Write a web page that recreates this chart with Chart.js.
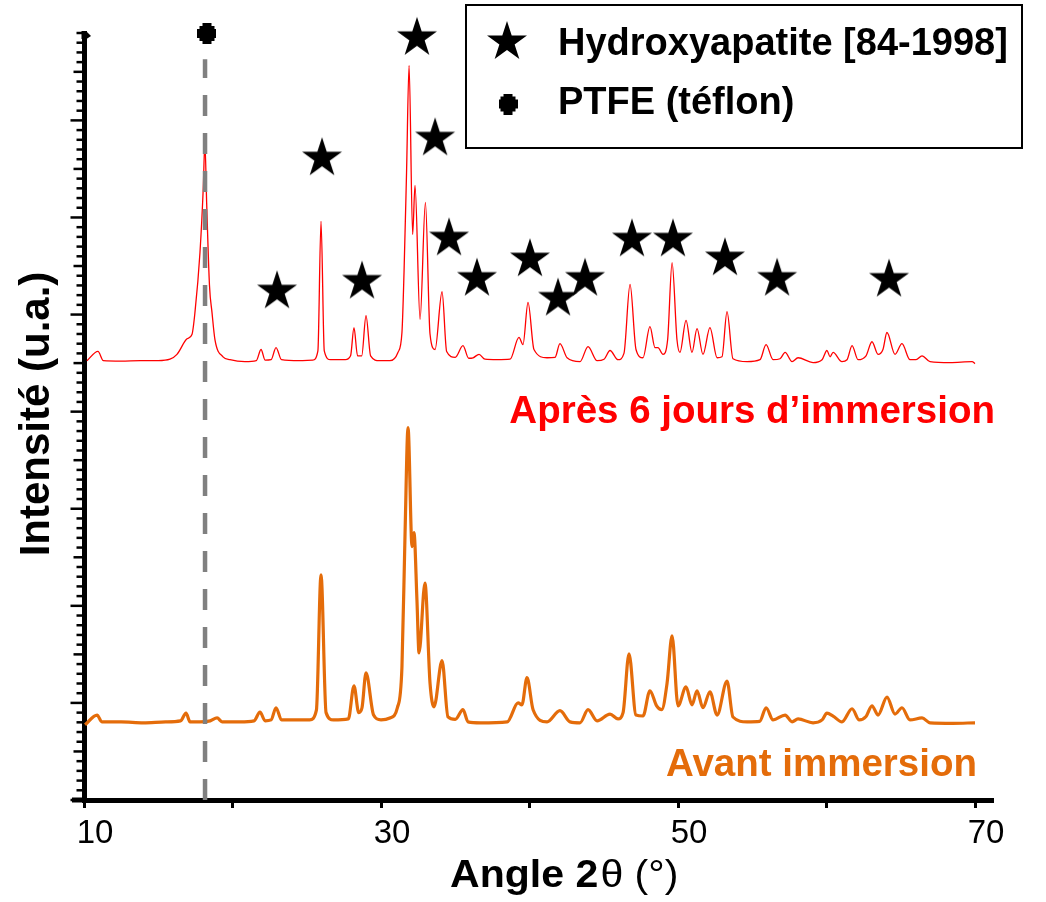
<!DOCTYPE html>
<html><head><meta charset="utf-8">
<script src="https://cdn.jsdelivr.net/npm/chart.js@4.4.1/dist/chart.umd.min.js"></script>
<style>html,body{margin:0;padding:0;background:#fff}#wrap{width:1046px;height:902px;position:relative}</style>
</head><body><div id="wrap"><canvas id="c" width="1046" height="902"></canvas></div>
<script>
const FONT = "'Liberation Sans', Arial, sans-serif";

// [angle 2θ (°), intensity (u.a.)]  — after 6 days of immersion (red, offset upward)
const redPattern = [
 [10.20,9.05],[10.94,9.24],[11.30,9.05],[12.50,9.04],[13.80,9.05],[15.00,9.05],[15.79,9.08],[16.26,9.18],
 [16.94,9.50],[17.27,9.59],[17.47,10.04],[17.81,11.28],[18.03,12.60],[18.14,13.55],[18.26,12.30],[18.45,10.60],[18.62,10.04],
 [18.82,9.48],[19.36,9.13],[19.83,9.07],[20.84,9.03],[21.60,9.05],[21.92,9.28],[22.20,9.06],[22.60,9.07],
 [22.93,9.32],[23.30,9.07],[24.50,9.05],[25.40,9.06],[25.75,9.25],[25.96,11.92],[26.18,9.25],[26.60,9.07],
 [27.60,9.07],[27.95,9.15],[28.18,9.73],[28.42,9.15],[28.70,9.15],[28.99,9.98],[29.30,9.15],[29.90,9.05],
 [30.60,9.05],[31.14,9.22],[31.41,9.63],[31.55,10.87],[31.72,12.93],[31.89,15.13],[32.13,11.65],[32.29,12.66],
 [32.63,9.90],[32.99,12.31],[33.30,9.60],[33.64,9.28],[34.11,10.47],[34.42,9.24],[35.00,9.12],[35.52,9.36],
 [35.90,9.10],[36.20,9.11],[36.60,9.18],[37.00,9.08],[37.81,9.07],[38.69,9.08],[39.29,9.53],[39.56,9.38],
 [39.90,10.25],[40.30,9.28],[41.18,9.11],[41.72,9.12],[42.05,9.40],[42.53,9.11],[43.40,9.03],[43.94,9.34],
 [44.55,9.05],[45.02,9.08],[45.42,9.26],[45.96,9.07],[46.36,9.20],[46.77,10.62],[47.17,9.28],[47.64,9.11],
 [48.11,9.75],[48.45,9.32],[48.65,9.32],[48.99,9.18],[49.30,9.48],[49.60,11.07],[49.93,9.48],[50.13,9.22],
 [50.54,9.88],[50.94,9.22],[51.28,9.71],[51.68,9.18],[52.15,9.73],[52.63,9.11],[52.96,9.13],[53.30,10.06],
 [53.70,9.09],[54.65,9.03],[55.52,9.07],[55.93,9.38],[56.40,9.07],[56.87,9.09],[57.21,9.22],[57.68,9.03],
 [58.08,9.11],[59.09,9.01],[59.70,9.07],[60.03,9.26],[60.24,9.13],[60.44,9.22],[61.04,9.03],[61.38,9.07],
 [61.72,9.36],[62.12,9.07],[62.66,9.15],[63.06,9.44],[63.47,9.18],[63.80,9.28],[64.07,9.63],[64.61,9.18],
 [65.08,9.40],[65.62,9.07],[66.03,9.07],[66.43,9.15],[66.97,9.03],[68.32,9.01],[69.80,9.03],[70.00,8.99]
];

// before immersion (orange)
const orangePattern = [
 [10.07,1.55],[10.88,1.75],[11.20,1.61],[12.50,1.61],[14.00,1.59],[15.50,1.61],[16.50,1.63],[16.87,1.79],
 [17.14,1.61],[17.80,1.61],[18.50,1.63],[18.96,1.69],[19.30,1.61],[20.50,1.61],[21.45,1.63],[21.85,1.81],
 [22.20,1.63],[22.60,1.65],[22.93,1.90],[23.30,1.65],[25.20,1.65],[25.65,1.85],[25.96,4.64],[26.30,1.80],
 [26.80,1.65],[27.80,1.67],[28.18,2.35],[28.50,1.80],[28.72,1.90],[28.99,2.62],[29.50,1.75],[30.00,1.65],
 [30.60,1.69],[31.10,1.90],[31.41,2.74],[31.62,5.51],[31.82,7.67],[32.09,5.22],[32.22,5.51],[32.42,4.12],
 [32.56,3.03],[32.96,4.47],[33.30,2.41],[33.57,1.92],[34.11,2.87],[34.51,1.71],[35.00,1.66],[35.52,1.86],
 [35.86,1.61],[36.70,1.59],[38.50,1.61],[39.23,2.00],[39.49,1.96],[39.83,2.52],[40.24,1.86],[41.18,1.61],
 [42.05,1.84],[42.73,1.61],[43.40,1.59],[43.94,1.86],[44.55,1.63],[45.42,1.77],[45.96,1.67],[46.30,1.80],
 [46.70,3.01],[47.17,1.75],[47.64,1.73],[48.11,2.25],[48.56,1.94],[48.90,1.86],[49.26,2.40],[49.60,3.38],
 [50.00,1.94],[50.54,2.33],[50.94,1.96],[51.28,2.25],[51.68,1.90],[52.15,2.23],[52.63,1.75],[53.30,2.45],
 [53.70,1.71],[54.65,1.61],[55.50,1.62],[55.93,1.90],[56.40,1.65],[57.21,1.75],[57.68,1.61],[58.08,1.67],
 [59.09,1.59],[59.70,1.65],[60.03,1.79],[60.44,1.73],[61.04,1.61],[61.72,1.88],[62.20,1.65],[62.66,1.72],
 [63.06,1.94],[63.47,1.75],[64.07,2.12],[64.61,1.77],[65.08,1.90],[65.62,1.65],[66.43,1.69],[66.97,1.59],
 [68.50,1.58],[70.00,1.59]
];

// hydroxyapatite star markers
const hapAngles = [32.42,26.03,33.64,23.00,28.72,34.58,36.46,40.03,41.92,43.74,46.90,49.66,53.16,56.67,64.21];
const hapLevels = [15.70,13.22,13.63,10.48,10.68,11.57,10.74,11.14,10.33,10.74,11.55,11.55,11.16,10.74,10.72];

// PTFE reference line and marker
const ptfeAngle = 18.15;
const ptfeLineTop = 15.26;
const ptfeMarker = [18.28, 15.79];

const xMin = 10, xMax = 71.21, yMin = 0, yMax = 15.8;
const xTickLabels = {10:'10', 30:'30', 50:'50', 70:'70'};

const texts = {
  xTitleBold: 'Angle 2',
  xTitleRest: 'θ (°)',
  yTitle: 'Intensité (u.a.)',
  after: 'Après 6 jours d’immersion',
  before: 'Avant immersion',
  legendHap: 'Hydroxyapatite [84-1998]',
  legendPtfe: 'PTFE (téflon)'
};
const RED = '#FF0000', ORANGE = '#E46C0A', GREY = '#808080';

function makeStar(R){
  const r = R*0.382, s = Math.ceil(2*R+2);
  const c = document.createElement('canvas'); c.width = s; c.height = s;
  const g = c.getContext('2d'); g.translate(s/2, s/2);
  g.beginPath();
  for (let i=0;i<10;i++){ const a=-Math.PI/2+i*Math.PI/5, rr=i%2?r:R; g.lineTo(rr*Math.cos(a), rr*Math.sin(a)); }
  g.closePath(); g.fillStyle='#000'; g.fill();
  return c;
}
function makePtfe(){
  const c = document.createElement('canvas'); c.width = 19; c.height = 21;
  const g = c.getContext('2d'); g.fillStyle='#000';
  g.fillRect(0,6,19,9); g.fillRect(5,0,9,21);
  g.fillRect(2,3,15,15);
  return c;
}
const starImg = makeStar(21);
const ptfeImg = makePtfe();

const decor = {
  id: 'decor',
  afterDraw(chart){
    const {ctx, chartArea: a, scales: {y}} = chart;
    ctx.save();
    // y-axis ticks (minor / medium / major)
    ctx.strokeStyle = '#000'; ctx.lineWidth = 2.5;
    for (let k=0; k<=79; k++){
      const py = y.getPixelForValue(k*0.2);
      const len = k%10===0 ? 11 : (k%5===0 ? 8 : 5);
      ctx.beginPath(); ctx.moveTo(a.left-2.5-len, py); ctx.lineTo(a.left, py); ctx.stroke();
    }
    // small arrow head at the top of the y axis
    ctx.fillStyle = '#000';
    ctx.beginPath(); ctx.moveTo(a.left-2.5, a.top-2); ctx.lineTo(a.left+2, a.top-2); ctx.lineTo(a.left+7, a.top+3);
    ctx.lineTo(a.left+2.5, a.top+6); ctx.lineTo(a.left-2.5, a.top+6); ctx.closePath(); ctx.fill();
    // x-axis small extension to the left
    ctx.lineWidth = 5; ctx.beginPath(); ctx.moveTo(a.left-12, a.bottom); ctx.lineTo(a.left, a.bottom); ctx.stroke();
    // x title: bold part + regular part, slightly widened like the reference
    ctx.fillStyle = '#000'; ctx.textBaseline = 'middle'; ctx.textAlign = 'left';
    ctx.save();
    ctx.translate(450, 877); ctx.scale(1.08, 1);
    ctx.font = `bold 38px ${FONT}`;
    ctx.fillText(texts.xTitleBold, 0, 0);
    const w1 = ctx.measureText(texts.xTitleBold).width;
    ctx.font = `38px ${FONT}`;
    ctx.fillText(texts.xTitleRest, w1 + 2, 0);
    ctx.restore();
    // y title
    ctx.font = `bold 42px ${FONT}`; ctx.textAlign = 'center';
    ctx.save(); ctx.translate(37, 414); ctx.rotate(-Math.PI/2); ctx.fillText(texts.yTitle, 0, 0); ctx.restore();
    // curve labels
    ctx.font = `bold 38.5px ${FONT}`;
    ctx.textAlign = 'right';
    ctx.fillStyle = RED; ctx.fillText(texts.after, 995, 412);
    ctx.fillStyle = ORANGE; ctx.fillText(texts.before, 977, 765);
    // legend
    ctx.font = `bold 38px ${FONT}`;
    ctx.strokeStyle = '#000'; ctx.lineWidth = 2;
    ctx.strokeRect(466, 5, 556, 143);
    ctx.drawImage(starImg, 507-starImg.width/2, 42-starImg.height/2);
    ctx.drawImage(ptfeImg, 508-ptfeImg.width/2, 104-ptfeImg.height/2);
    ctx.fillStyle = '#000'; ctx.textAlign = 'left';
    ctx.fillText(texts.legendHap, 558, 45);
    ctx.fillText(texts.legendPtfe, 558, 104);
    ctx.restore();
  }
};

const toXY = arr => arr.map(p => ({x: p[0], y: p[1]}));

new Chart(document.getElementById('c'), {
  type: 'line',
  data: {
    datasets: [
      { label: 'Hydroxyapatite', data: hapAngles.map((a,i)=>({x:a, y:hapLevels[i]})), showLine: false,
        pointStyle: starImg, pointRadius: 21, clip: false },
      { label: 'PTFE', data: [{x: ptfeMarker[0], y: ptfeMarker[1]}], showLine: false,
        pointStyle: ptfeImg, pointRadius: 10, clip: false },
      { label: 'PTFE line', data: [{x: ptfeAngle, y: 0}, {x: ptfeAngle, y: ptfeLineTop}],
        borderColor: GREY, borderWidth: 4.5, borderDash: [21, 17], pointRadius: 0 },
      { label: texts.after, data: toXY(redPattern), borderColor: RED, borderWidth: 1.3,
        pointRadius: 0, cubicInterpolationMode: 'monotone' },
      { label: texts.before, data: toXY(orangePattern), borderColor: ORANGE, borderWidth: 3.2,
        pointRadius: 0, cubicInterpolationMode: 'monotone' }
    ]
  },
  options: {
    responsive: false, animation: false,
    layout: { padding: { left: 0, right: 53, top: 33, bottom: 0 } },
    plugins: { legend: { display: false }, tooltip: { enabled: false } },
    scales: {
      x: {
        type: 'linear', min: xMin, max: xMax,
        border: { display: true, color: '#000', width: 5 },
        grid: { display: true, drawOnChartArea: false, drawTicks: true, tickLength: 8, tickWidth: 3, tickColor: '#000', color: '#000' },
        ticks: { stepSize: 10, includeBounds: false, autoSkip: false, maxRotation: 0, minRotation: 0,
          padding: 6, labelOffset: 11, color: '#000', font: { family: FONT, size: 33 },
          callback: v => (xTickLabels[v] !== undefined ? xTickLabels[v] : '') },
        afterFit: s => { s.height = 102; }
      },
      y: {
        type: 'linear', min: yMin, max: yMax,
        border: { display: true, color: '#000', width: 5 },
        grid: { display: false },
        ticks: { display: false },
        afterFit: s => { s.width = 84; }
      }
    }
  },
  plugins: [decor]
});
</script></body></html>
